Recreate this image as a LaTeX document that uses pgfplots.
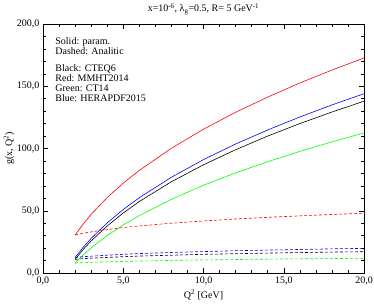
\documentclass[border=0pt]{standalone}
\usepackage{pgfplots}
\pgfplotsset{compat=1.18}
\usepackage{fontspec}
\setmainfont{Liberation Serif}
\begin{document}
\begin{tikzpicture}
\begin{axis}[
  scale only axis,
  width=321pt, height=249pt,
  xmin=0, xmax=20, ymin=0, ymax=200,
  xtick={0,5,10,15,20}, ytick={0,50,100,150,200},
  minor x tick num=4, minor y tick num=4,
  tick align=inside,
  major tick length=5pt, minor tick length=3pt,
  tick style={black, line width=0.5pt},
  axis line style={line width=0.7pt},
  /pgf/number format/.cd, fixed, fixed zerofill, precision=1, use comma, assume math mode=true,
  /pgfplots/.cd,
  ticklabel style={font=\fontsize{10}{12}\selectfont},
  xlabel={Q\textsuperscript{2} [GeV]},
  ylabel={g(x, Q\textsuperscript{2})},
  label style={font=\fontsize{10}{12}\selectfont},
  xlabel style={at={(axis description cs:0.5,-0.1004)}, anchor=base},
  ylabel style={at={(axis description cs:-0.106,0.5)}, anchor=center},
  every axis plot/.append style={line width=0.6pt},
  clip=true,
]
% solid: param.
\addplot[red] coordinates {(2,30.5)(2.5,39.3)(3,47.1)(4,60.6)(5,72.2)(6,82.4)(8,100.2)(10,115.5)(12,129.1)(14,141.3)(16,152.6)(18,163.0)(20,172.7)};
\addplot[blue] coordinates {(2,12.5)(2.5,20.6)(3,27.8)(4,40.3)(5,51.0)(6,60.5)(8,76.9)(10,91.1)(12,103.6)(14,114.9)(16,125.3)(18,135.0)(20,144.0)};
\addplot[black] coordinates {(2,11.0)(2.5,18.8)(3,25.8)(4,37.8)(5,48.2)(6,57.4)(8,73.3)(10,86.9)(12,99.0)(14,110.0)(16,120.0)(18,129.3)(20,138.0)};
\addplot[green] coordinates {(2,8.0)(2.5,14.5)(3,20.2)(4,30.1)(5,38.6)(6,46.1)(8,59.2)(10,70.5)(12,80.4)(14,89.4)(16,97.7)(18,105.3)(20,112.5)};
% dashed: analytic
\addplot[red, dash pattern=on 3pt off 2pt] coordinates {(2,30.5)(2.5,31.9)(3,33.0)(4,34.9)(5,36.5)(6,37.8)(8,40.0)(10,41.8)(12,43.4)(14,44.7)(16,45.9)(18,47.0)(20,48.0)};
\addplot[blue, dash pattern=on 3pt off 2pt] coordinates {(2,12.5)(2.5,13.1)(3,13.5)(4,14.3)(5,15.0)(6,15.6)(8,16.5)(10,17.2)(12,17.9)(14,18.4)(16,18.9)(18,19.4)(20,19.8)};
\addplot[black, dash pattern=on 3pt off 2pt] coordinates {(2,11.0)(2.5,11.5)(3,11.9)(4,12.5)(5,13.1)(6,13.6)(8,14.3)(10,15.0)(12,15.5)(14,16.0)(16,16.4)(18,16.8)(20,17.1)};
\addplot[green, dash pattern=on 3pt off 2pt] coordinates {(2,8.0)(2.5,8.3)(3,8.55)(4,9.0)(5,9.3)(6,9.6)(8,10.1)(10,10.5)(12,10.8)(14,11.1)(16,11.4)(18,11.6)(20,11.8)};
\node[anchor=north west, align=left, inner sep=0pt, font=\fontsize{10}{10}\selectfont]
  at (rel axis cs:0.038,0.945) {Solid: param.\\Dashed: Analitic\\[7pt]Black: CTEQ6\\Red: MMHT2014\\Green: CT14\\Blue: HERAPDF2015};
\coordinate (bl) at (rel axis cs:0,0);
\coordinate (tc) at (rel axis cs:0.5,1);
\end{axis}
\node[anchor=base, inner sep=0pt, font=\fontsize{10}{12}\selectfont] at ([yshift=12pt]tc)
  {x=10\textsuperscript{-6}, λ\textsubscript{g}=0.5, R= 5 GeV\textsuperscript{-1}};
\pgfresetboundingbox
\path (bl) ++(-43pt,-30pt) rectangle ++(374pt,303pt);
\end{tikzpicture}
\end{document}
